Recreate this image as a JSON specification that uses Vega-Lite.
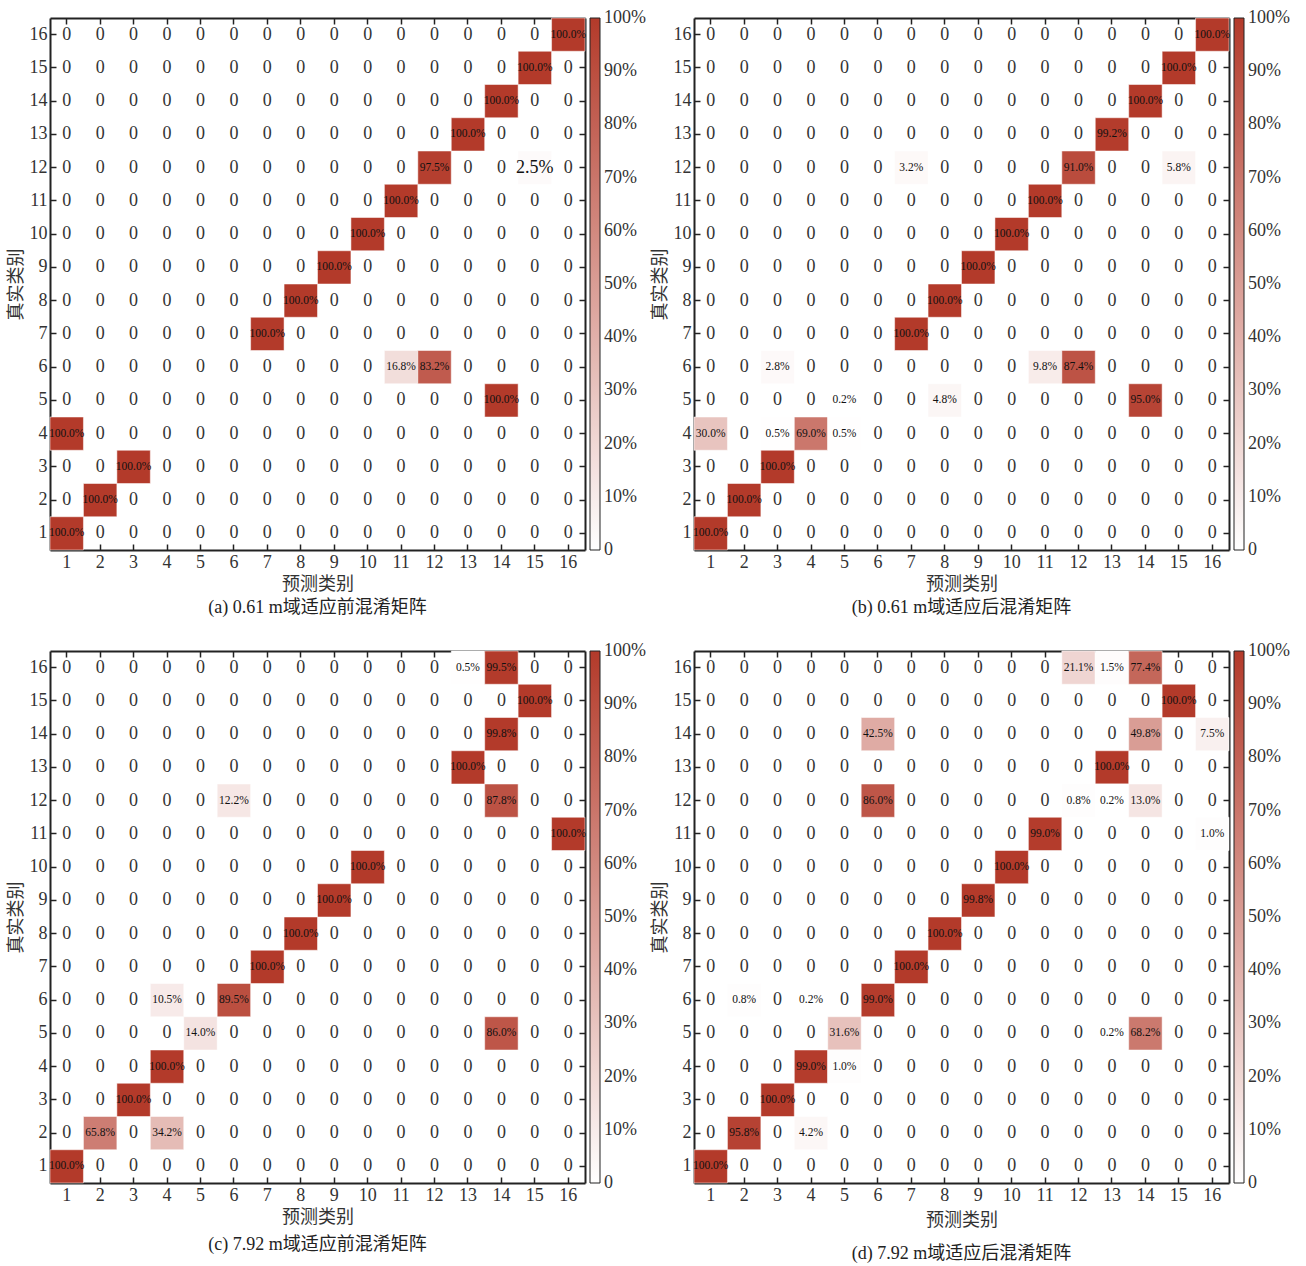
{
"$schema": "https://vega.github.io/schema/vega-lite/v6.json",
"background": "white",
"padding": {"left": 7, "top": 17, "right": 0, "bottom": 0},
"data": {"format": {"type": "csv", "parse": {"t": "number", "p": "number", "v": "number"}}, "values": "g,t,p,v\na,16,1,0\na,16,2,0\na,16,3,0\na,16,4,0\na,16,5,0\na,16,6,0\na,16,7,0\na,16,8,0\na,16,9,0\na,16,10,0\na,16,11,0\na,16,12,0\na,16,13,0\na,16,14,0\na,16,15,0\na,16,16,1\na,15,1,0\na,15,2,0\na,15,3,0\na,15,4,0\na,15,5,0\na,15,6,0\na,15,7,0\na,15,8,0\na,15,9,0\na,15,10,0\na,15,11,0\na,15,12,0\na,15,13,0\na,15,14,0\na,15,15,1\na,15,16,0\na,14,1,0\na,14,2,0\na,14,3,0\na,14,4,0\na,14,5,0\na,14,6,0\na,14,7,0\na,14,8,0\na,14,9,0\na,14,10,0\na,14,11,0\na,14,12,0\na,14,13,0\na,14,14,1\na,14,15,0\na,14,16,0\na,13,1,0\na,13,2,0\na,13,3,0\na,13,4,0\na,13,5,0\na,13,6,0\na,13,7,0\na,13,8,0\na,13,9,0\na,13,10,0\na,13,11,0\na,13,12,0\na,13,13,1\na,13,14,0\na,13,15,0\na,13,16,0\na,12,1,0\na,12,2,0\na,12,3,0\na,12,4,0\na,12,5,0\na,12,6,0\na,12,7,0\na,12,8,0\na,12,9,0\na,12,10,0\na,12,11,0\na,12,12,0.975\na,12,13,0\na,12,14,0\na,12,15,0.025\na,12,16,0\na,11,1,0\na,11,2,0\na,11,3,0\na,11,4,0\na,11,5,0\na,11,6,0\na,11,7,0\na,11,8,0\na,11,9,0\na,11,10,0\na,11,11,1\na,11,12,0\na,11,13,0\na,11,14,0\na,11,15,0\na,11,16,0\na,10,1,0\na,10,2,0\na,10,3,0\na,10,4,0\na,10,5,0\na,10,6,0\na,10,7,0\na,10,8,0\na,10,9,0\na,10,10,1\na,10,11,0\na,10,12,0\na,10,13,0\na,10,14,0\na,10,15,0\na,10,16,0\na,9,1,0\na,9,2,0\na,9,3,0\na,9,4,0\na,9,5,0\na,9,6,0\na,9,7,0\na,9,8,0\na,9,9,1\na,9,10,0\na,9,11,0\na,9,12,0\na,9,13,0\na,9,14,0\na,9,15,0\na,9,16,0\na,8,1,0\na,8,2,0\na,8,3,0\na,8,4,0\na,8,5,0\na,8,6,0\na,8,7,0\na,8,8,1\na,8,9,0\na,8,10,0\na,8,11,0\na,8,12,0\na,8,13,0\na,8,14,0\na,8,15,0\na,8,16,0\na,7,1,0\na,7,2,0\na,7,3,0\na,7,4,0\na,7,5,0\na,7,6,0\na,7,7,1\na,7,8,0\na,7,9,0\na,7,10,0\na,7,11,0\na,7,12,0\na,7,13,0\na,7,14,0\na,7,15,0\na,7,16,0\na,6,1,0\na,6,2,0\na,6,3,0\na,6,4,0\na,6,5,0\na,6,6,0\na,6,7,0\na,6,8,0\na,6,9,0\na,6,10,0\na,6,11,0.168\na,6,12,0.832\na,6,13,0\na,6,14,0\na,6,15,0\na,6,16,0\na,5,1,0\na,5,2,0\na,5,3,0\na,5,4,0\na,5,5,0\na,5,6,0\na,5,7,0\na,5,8,0\na,5,9,0\na,5,10,0\na,5,11,0\na,5,12,0\na,5,13,0\na,5,14,1\na,5,15,0\na,5,16,0\na,4,1,1\na,4,2,0\na,4,3,0\na,4,4,0\na,4,5,0\na,4,6,0\na,4,7,0\na,4,8,0\na,4,9,0\na,4,10,0\na,4,11,0\na,4,12,0\na,4,13,0\na,4,14,0\na,4,15,0\na,4,16,0\na,3,1,0\na,3,2,0\na,3,3,1\na,3,4,0\na,3,5,0\na,3,6,0\na,3,7,0\na,3,8,0\na,3,9,0\na,3,10,0\na,3,11,0\na,3,12,0\na,3,13,0\na,3,14,0\na,3,15,0\na,3,16,0\na,2,1,0\na,2,2,1\na,2,3,0\na,2,4,0\na,2,5,0\na,2,6,0\na,2,7,0\na,2,8,0\na,2,9,0\na,2,10,0\na,2,11,0\na,2,12,0\na,2,13,0\na,2,14,0\na,2,15,0\na,2,16,0\na,1,1,1\na,1,2,0\na,1,3,0\na,1,4,0\na,1,5,0\na,1,6,0\na,1,7,0\na,1,8,0\na,1,9,0\na,1,10,0\na,1,11,0\na,1,12,0\na,1,13,0\na,1,14,0\na,1,15,0\na,1,16,0\nb,16,1,0\nb,16,2,0\nb,16,3,0\nb,16,4,0\nb,16,5,0\nb,16,6,0\nb,16,7,0\nb,16,8,0\nb,16,9,0\nb,16,10,0\nb,16,11,0\nb,16,12,0\nb,16,13,0\nb,16,14,0\nb,16,15,0\nb,16,16,1\nb,15,1,0\nb,15,2,0\nb,15,3,0\nb,15,4,0\nb,15,5,0\nb,15,6,0\nb,15,7,0\nb,15,8,0\nb,15,9,0\nb,15,10,0\nb,15,11,0\nb,15,12,0\nb,15,13,0\nb,15,14,0\nb,15,15,1\nb,15,16,0\nb,14,1,0\nb,14,2,0\nb,14,3,0\nb,14,4,0\nb,14,5,0\nb,14,6,0\nb,14,7,0\nb,14,8,0\nb,14,9,0\nb,14,10,0\nb,14,11,0\nb,14,12,0\nb,14,13,0\nb,14,14,1\nb,14,15,0\nb,14,16,0\nb,13,1,0\nb,13,2,0\nb,13,3,0\nb,13,4,0\nb,13,5,0\nb,13,6,0\nb,13,7,0\nb,13,8,0\nb,13,9,0\nb,13,10,0\nb,13,11,0\nb,13,12,0\nb,13,13,0.992\nb,13,14,0\nb,13,15,0\nb,13,16,0\nb,12,1,0\nb,12,2,0\nb,12,3,0\nb,12,4,0\nb,12,5,0\nb,12,6,0\nb,12,7,0.032\nb,12,8,0\nb,12,9,0\nb,12,10,0\nb,12,11,0\nb,12,12,0.91\nb,12,13,0\nb,12,14,0\nb,12,15,0.058\nb,12,16,0\nb,11,1,0\nb,11,2,0\nb,11,3,0\nb,11,4,0\nb,11,5,0\nb,11,6,0\nb,11,7,0\nb,11,8,0\nb,11,9,0\nb,11,10,0\nb,11,11,1\nb,11,12,0\nb,11,13,0\nb,11,14,0\nb,11,15,0\nb,11,16,0\nb,10,1,0\nb,10,2,0\nb,10,3,0\nb,10,4,0\nb,10,5,0\nb,10,6,0\nb,10,7,0\nb,10,8,0\nb,10,9,0\nb,10,10,1\nb,10,11,0\nb,10,12,0\nb,10,13,0\nb,10,14,0\nb,10,15,0\nb,10,16,0\nb,9,1,0\nb,9,2,0\nb,9,3,0\nb,9,4,0\nb,9,5,0\nb,9,6,0\nb,9,7,0\nb,9,8,0\nb,9,9,1\nb,9,10,0\nb,9,11,0\nb,9,12,0\nb,9,13,0\nb,9,14,0\nb,9,15,0\nb,9,16,0\nb,8,1,0\nb,8,2,0\nb,8,3,0\nb,8,4,0\nb,8,5,0\nb,8,6,0\nb,8,7,0\nb,8,8,1\nb,8,9,0\nb,8,10,0\nb,8,11,0\nb,8,12,0\nb,8,13,0\nb,8,14,0\nb,8,15,0\nb,8,16,0\nb,7,1,0\nb,7,2,0\nb,7,3,0\nb,7,4,0\nb,7,5,0\nb,7,6,0\nb,7,7,1\nb,7,8,0\nb,7,9,0\nb,7,10,0\nb,7,11,0\nb,7,12,0\nb,7,13,0\nb,7,14,0\nb,7,15,0\nb,7,16,0\nb,6,1,0\nb,6,2,0\nb,6,3,0.028\nb,6,4,0\nb,6,5,0\nb,6,6,0\nb,6,7,0\nb,6,8,0\nb,6,9,0\nb,6,10,0\nb,6,11,0.098\nb,6,12,0.874\nb,6,13,0\nb,6,14,0\nb,6,15,0\nb,6,16,0\nb,5,1,0\nb,5,2,0\nb,5,3,0\nb,5,4,0\nb,5,5,0.002\nb,5,6,0\nb,5,7,0\nb,5,8,0.048\nb,5,9,0\nb,5,10,0\nb,5,11,0\nb,5,12,0\nb,5,13,0\nb,5,14,0.95\nb,5,15,0\nb,5,16,0\nb,4,1,0.3\nb,4,2,0\nb,4,3,0.005\nb,4,4,0.69\nb,4,5,0.005\nb,4,6,0\nb,4,7,0\nb,4,8,0\nb,4,9,0\nb,4,10,0\nb,4,11,0\nb,4,12,0\nb,4,13,0\nb,4,14,0\nb,4,15,0\nb,4,16,0\nb,3,1,0\nb,3,2,0\nb,3,3,1\nb,3,4,0\nb,3,5,0\nb,3,6,0\nb,3,7,0\nb,3,8,0\nb,3,9,0\nb,3,10,0\nb,3,11,0\nb,3,12,0\nb,3,13,0\nb,3,14,0\nb,3,15,0\nb,3,16,0\nb,2,1,0\nb,2,2,1\nb,2,3,0\nb,2,4,0\nb,2,5,0\nb,2,6,0\nb,2,7,0\nb,2,8,0\nb,2,9,0\nb,2,10,0\nb,2,11,0\nb,2,12,0\nb,2,13,0\nb,2,14,0\nb,2,15,0\nb,2,16,0\nb,1,1,1\nb,1,2,0\nb,1,3,0\nb,1,4,0\nb,1,5,0\nb,1,6,0\nb,1,7,0\nb,1,8,0\nb,1,9,0\nb,1,10,0\nb,1,11,0\nb,1,12,0\nb,1,13,0\nb,1,14,0\nb,1,15,0\nb,1,16,0\nc,16,1,0\nc,16,2,0\nc,16,3,0\nc,16,4,0\nc,16,5,0\nc,16,6,0\nc,16,7,0\nc,16,8,0\nc,16,9,0\nc,16,10,0\nc,16,11,0\nc,16,12,0\nc,16,13,0.005\nc,16,14,0.995\nc,16,15,0\nc,16,16,0\nc,15,1,0\nc,15,2,0\nc,15,3,0\nc,15,4,0\nc,15,5,0\nc,15,6,0\nc,15,7,0\nc,15,8,0\nc,15,9,0\nc,15,10,0\nc,15,11,0\nc,15,12,0\nc,15,13,0\nc,15,14,0\nc,15,15,1\nc,15,16,0\nc,14,1,0\nc,14,2,0\nc,14,3,0\nc,14,4,0\nc,14,5,0\nc,14,6,0\nc,14,7,0\nc,14,8,0\nc,14,9,0\nc,14,10,0\nc,14,11,0\nc,14,12,0\nc,14,13,0\nc,14,14,0.998\nc,14,15,0\nc,14,16,0\nc,13,1,0\nc,13,2,0\nc,13,3,0\nc,13,4,0\nc,13,5,0\nc,13,6,0\nc,13,7,0\nc,13,8,0\nc,13,9,0\nc,13,10,0\nc,13,11,0\nc,13,12,0\nc,13,13,1\nc,13,14,0\nc,13,15,0\nc,13,16,0\nc,12,1,0\nc,12,2,0\nc,12,3,0\nc,12,4,0\nc,12,5,0\nc,12,6,0.122\nc,12,7,0\nc,12,8,0\nc,12,9,0\nc,12,10,0\nc,12,11,0\nc,12,12,0\nc,12,13,0\nc,12,14,0.878\nc,12,15,0\nc,12,16,0\nc,11,1,0\nc,11,2,0\nc,11,3,0\nc,11,4,0\nc,11,5,0\nc,11,6,0\nc,11,7,0\nc,11,8,0\nc,11,9,0\nc,11,10,0\nc,11,11,0\nc,11,12,0\nc,11,13,0\nc,11,14,0\nc,11,15,0\nc,11,16,1\nc,10,1,0\nc,10,2,0\nc,10,3,0\nc,10,4,0\nc,10,5,0\nc,10,6,0\nc,10,7,0\nc,10,8,0\nc,10,9,0\nc,10,10,1\nc,10,11,0\nc,10,12,0\nc,10,13,0\nc,10,14,0\nc,10,15,0\nc,10,16,0\nc,9,1,0\nc,9,2,0\nc,9,3,0\nc,9,4,0\nc,9,5,0\nc,9,6,0\nc,9,7,0\nc,9,8,0\nc,9,9,1\nc,9,10,0\nc,9,11,0\nc,9,12,0\nc,9,13,0\nc,9,14,0\nc,9,15,0\nc,9,16,0\nc,8,1,0\nc,8,2,0\nc,8,3,0\nc,8,4,0\nc,8,5,0\nc,8,6,0\nc,8,7,0\nc,8,8,1\nc,8,9,0\nc,8,10,0\nc,8,11,0\nc,8,12,0\nc,8,13,0\nc,8,14,0\nc,8,15,0\nc,8,16,0\nc,7,1,0\nc,7,2,0\nc,7,3,0\nc,7,4,0\nc,7,5,0\nc,7,6,0\nc,7,7,1\nc,7,8,0\nc,7,9,0\nc,7,10,0\nc,7,11,0\nc,7,12,0\nc,7,13,0\nc,7,14,0\nc,7,15,0\nc,7,16,0\nc,6,1,0\nc,6,2,0\nc,6,3,0\nc,6,4,0.105\nc,6,5,0\nc,6,6,0.895\nc,6,7,0\nc,6,8,0\nc,6,9,0\nc,6,10,0\nc,6,11,0\nc,6,12,0\nc,6,13,0\nc,6,14,0\nc,6,15,0\nc,6,16,0\nc,5,1,0\nc,5,2,0\nc,5,3,0\nc,5,4,0\nc,5,5,0.14\nc,5,6,0\nc,5,7,0\nc,5,8,0\nc,5,9,0\nc,5,10,0\nc,5,11,0\nc,5,12,0\nc,5,13,0\nc,5,14,0.86\nc,5,15,0\nc,5,16,0\nc,4,1,0\nc,4,2,0\nc,4,3,0\nc,4,4,1\nc,4,5,0\nc,4,6,0\nc,4,7,0\nc,4,8,0\nc,4,9,0\nc,4,10,0\nc,4,11,0\nc,4,12,0\nc,4,13,0\nc,4,14,0\nc,4,15,0\nc,4,16,0\nc,3,1,0\nc,3,2,0\nc,3,3,1\nc,3,4,0\nc,3,5,0\nc,3,6,0\nc,3,7,0\nc,3,8,0\nc,3,9,0\nc,3,10,0\nc,3,11,0\nc,3,12,0\nc,3,13,0\nc,3,14,0\nc,3,15,0\nc,3,16,0\nc,2,1,0\nc,2,2,0.658\nc,2,3,0\nc,2,4,0.342\nc,2,5,0\nc,2,6,0\nc,2,7,0\nc,2,8,0\nc,2,9,0\nc,2,10,0\nc,2,11,0\nc,2,12,0\nc,2,13,0\nc,2,14,0\nc,2,15,0\nc,2,16,0\nc,1,1,1\nc,1,2,0\nc,1,3,0\nc,1,4,0\nc,1,5,0\nc,1,6,0\nc,1,7,0\nc,1,8,0\nc,1,9,0\nc,1,10,0\nc,1,11,0\nc,1,12,0\nc,1,13,0\nc,1,14,0\nc,1,15,0\nc,1,16,0\nd,16,1,0\nd,16,2,0\nd,16,3,0\nd,16,4,0\nd,16,5,0\nd,16,6,0\nd,16,7,0\nd,16,8,0\nd,16,9,0\nd,16,10,0\nd,16,11,0\nd,16,12,0.211\nd,16,13,0.015\nd,16,14,0.774\nd,16,15,0\nd,16,16,0\nd,15,1,0\nd,15,2,0\nd,15,3,0\nd,15,4,0\nd,15,5,0\nd,15,6,0\nd,15,7,0\nd,15,8,0\nd,15,9,0\nd,15,10,0\nd,15,11,0\nd,15,12,0\nd,15,13,0\nd,15,14,0\nd,15,15,1\nd,15,16,0\nd,14,1,0\nd,14,2,0\nd,14,3,0\nd,14,4,0\nd,14,5,0\nd,14,6,0.425\nd,14,7,0\nd,14,8,0\nd,14,9,0\nd,14,10,0\nd,14,11,0\nd,14,12,0\nd,14,13,0\nd,14,14,0.498\nd,14,15,0\nd,14,16,0.075\nd,13,1,0\nd,13,2,0\nd,13,3,0\nd,13,4,0\nd,13,5,0\nd,13,6,0\nd,13,7,0\nd,13,8,0\nd,13,9,0\nd,13,10,0\nd,13,11,0\nd,13,12,0\nd,13,13,1\nd,13,14,0\nd,13,15,0\nd,13,16,0\nd,12,1,0\nd,12,2,0\nd,12,3,0\nd,12,4,0\nd,12,5,0\nd,12,6,0.86\nd,12,7,0\nd,12,8,0\nd,12,9,0\nd,12,10,0\nd,12,11,0\nd,12,12,0.008\nd,12,13,0.002\nd,12,14,0.13\nd,12,15,0\nd,12,16,0\nd,11,1,0\nd,11,2,0\nd,11,3,0\nd,11,4,0\nd,11,5,0\nd,11,6,0\nd,11,7,0\nd,11,8,0\nd,11,9,0\nd,11,10,0\nd,11,11,0.99\nd,11,12,0\nd,11,13,0\nd,11,14,0\nd,11,15,0\nd,11,16,0.01\nd,10,1,0\nd,10,2,0\nd,10,3,0\nd,10,4,0\nd,10,5,0\nd,10,6,0\nd,10,7,0\nd,10,8,0\nd,10,9,0\nd,10,10,1\nd,10,11,0\nd,10,12,0\nd,10,13,0\nd,10,14,0\nd,10,15,0\nd,10,16,0\nd,9,1,0\nd,9,2,0\nd,9,3,0\nd,9,4,0\nd,9,5,0\nd,9,6,0\nd,9,7,0\nd,9,8,0\nd,9,9,0.998\nd,9,10,0\nd,9,11,0\nd,9,12,0\nd,9,13,0\nd,9,14,0\nd,9,15,0\nd,9,16,0\nd,8,1,0\nd,8,2,0\nd,8,3,0\nd,8,4,0\nd,8,5,0\nd,8,6,0\nd,8,7,0\nd,8,8,1\nd,8,9,0\nd,8,10,0\nd,8,11,0\nd,8,12,0\nd,8,13,0\nd,8,14,0\nd,8,15,0\nd,8,16,0\nd,7,1,0\nd,7,2,0\nd,7,3,0\nd,7,4,0\nd,7,5,0\nd,7,6,0\nd,7,7,1\nd,7,8,0\nd,7,9,0\nd,7,10,0\nd,7,11,0\nd,7,12,0\nd,7,13,0\nd,7,14,0\nd,7,15,0\nd,7,16,0\nd,6,1,0\nd,6,2,0.008\nd,6,3,0\nd,6,4,0.002\nd,6,5,0\nd,6,6,0.99\nd,6,7,0\nd,6,8,0\nd,6,9,0\nd,6,10,0\nd,6,11,0\nd,6,12,0\nd,6,13,0\nd,6,14,0\nd,6,15,0\nd,6,16,0\nd,5,1,0\nd,5,2,0\nd,5,3,0\nd,5,4,0\nd,5,5,0.316\nd,5,6,0\nd,5,7,0\nd,5,8,0\nd,5,9,0\nd,5,10,0\nd,5,11,0\nd,5,12,0\nd,5,13,0.002\nd,5,14,0.682\nd,5,15,0\nd,5,16,0\nd,4,1,0\nd,4,2,0\nd,4,3,0\nd,4,4,0.99\nd,4,5,0.01\nd,4,6,0\nd,4,7,0\nd,4,8,0\nd,4,9,0\nd,4,10,0\nd,4,11,0\nd,4,12,0\nd,4,13,0\nd,4,14,0\nd,4,15,0\nd,4,16,0\nd,3,1,0\nd,3,2,0\nd,3,3,1\nd,3,4,0\nd,3,5,0\nd,3,6,0\nd,3,7,0\nd,3,8,0\nd,3,9,0\nd,3,10,0\nd,3,11,0\nd,3,12,0\nd,3,13,0\nd,3,14,0\nd,3,15,0\nd,3,16,0\nd,2,1,0\nd,2,2,0.958\nd,2,3,0\nd,2,4,0.042\nd,2,5,0\nd,2,6,0\nd,2,7,0\nd,2,8,0\nd,2,9,0\nd,2,10,0\nd,2,11,0\nd,2,12,0\nd,2,13,0\nd,2,14,0\nd,2,15,0\nd,2,16,0\nd,1,1,1\nd,1,2,0\nd,1,3,0\nd,1,4,0\nd,1,5,0\nd,1,6,0\nd,1,7,0\nd,1,8,0\nd,1,9,0\nd,1,10,0\nd,1,11,0\nd,1,12,0\nd,1,13,0\nd,1,14,0\nd,1,15,0\nd,1,16,0"},
"config": {
  "font": "Liberation Serif, Noto Sans CJK SC",
  "view": {"stroke": null},
  "axis": {"domain": true, "domainColor": "#222", "domainWidth": 2, "grid": false, "ticks": true, "tickColor": "#222", "tickWidth": 1.5, "tickSize": -6, "labelFontSize": 18, "labelColor": "#333", "labelPadding": 9, "labelAngle": 0, "titleFontSize": 18, "titleColor": "#333", "titleFontWeight": "normal", "titlePadding": 4, "zindex": 1},
  "legend": {"gradientVerticalMaxLength": 700, "labelFontSize": 18, "labelColor": "#333", "labelFont": "Liberation Serif"},
  "title": {"fontSize": 18, "fontWeight": "normal", "color": "#222", "font": "Liberation Serif, Noto Sans CJK SC"}
},
"spacing": 33,
"resolve": {"scale": {"color": "independent"}, "legend": {"color": "independent"}},
"vconcat": [
  {"hconcat": [
    {"title": {"text": "(a) 0.61 m域适应前混淆矩阵", "orient": "bottom", "offset": 6, "frame": "group"},
     "width": 535, "height": 532,
     "transform": [{"filter": "datum.g == 'a'"}],
     "layer": [
      {"transform": [{"filter": "datum.v > 0"}],
       "mark": {"type": "rect", "stroke": "white", "strokeOpacity": 0.5, "strokeWidth": 1},
       "encoding": {
        "x": {"field": "p", "type": "ordinal", "scale": {"type": "band", "domain": [1,2,3,4,5,6,7,8,9,10,11,12,13,14,15,16], "paddingInner": 0, "paddingOuter": 0}, "axis": {"orient": "bottom", "title": "预测类别"}},
        "y": {"field": "t", "type": "ordinal", "scale": {"type": "band", "domain": [16,15,14,13,12,11,10,9,8,7,6,5,4,3,2,1], "paddingInner": 0, "paddingOuter": 0}, "axis": {"orient": "left", "title": "真实类别"}},
        "color": {"field": "v", "type": "quantitative", "scale": {"domain": [0, 1], "range": ["#ffffff", "#b33a2a"], "interpolate": "rgb"}, "legend": {"orient": "right", "offset": 4, "title": null, "direction": "vertical", "gradientLength": 532, "gradientThickness": 10, "values": [0,0.1,0.2,0.3,0.4,0.5,0.6,0.7,0.8,0.9,1], "labelExpr": "datum.value == 0 ? '0' : format(datum.value, '.0%')", "labelOffset": 4, "labelOverlap": false, "gradientStrokeColor": "#222", "gradientStrokeWidth": 1, "encode": {"labels": {"update": {"baseline": {"value": "middle"}}}}}}
       }},
      {"transform": [{"filter": "datum.v == 0"}],
       "mark": {"type": "text", "fontSize": 18, "color": "#333", "font": "Liberation Serif"},
       "encoding": {
        "x": {"field": "p", "type": "ordinal", "axis": {"orient": "top", "labels": false, "title": null}},
        "y": {"field": "t", "type": "ordinal", "axis": {"orient": "right", "labels": false, "title": null}},
        "text": {"field": "v", "type": "quantitative", "format": ".0f"}
       }},
      {"transform": [{"filter": "datum.v > 0"}],
       "mark": {"type": "text", "color": "#111", "font": "Liberation Serif"},
       "encoding": {
        "x": {"field": "p", "type": "ordinal", "axis": null},
        "y": {"field": "t", "type": "ordinal", "axis": null},
        "text": {"field": "v", "type": "quantitative", "format": ".1%"},
        "size": {"condition": {"test": "datum.g == 'a' && datum.t == 12 && datum.p == 15", "value": 18}, "value": 11.5}
       }}
     ],
     "resolve": {"axis": {"x": "independent", "y": "independent"}}
    },
    {"title": {"text": "(b) 0.61 m域适应后混淆矩阵", "orient": "bottom", "offset": 6, "frame": "group"},
     "width": 535, "height": 532,
     "transform": [{"filter": "datum.g == 'b'"}],
     "layer": [
      {"transform": [{"filter": "datum.v > 0"}],
       "mark": {"type": "rect", "stroke": "white", "strokeOpacity": 0.5, "strokeWidth": 1},
       "encoding": {
        "x": {"field": "p", "type": "ordinal", "scale": {"type": "band", "domain": [1,2,3,4,5,6,7,8,9,10,11,12,13,14,15,16], "paddingInner": 0, "paddingOuter": 0}, "axis": {"orient": "bottom", "title": "预测类别"}},
        "y": {"field": "t", "type": "ordinal", "scale": {"type": "band", "domain": [16,15,14,13,12,11,10,9,8,7,6,5,4,3,2,1], "paddingInner": 0, "paddingOuter": 0}, "axis": {"orient": "left", "title": "真实类别"}},
        "color": {"field": "v", "type": "quantitative", "scale": {"domain": [0, 1], "range": ["#ffffff", "#b33a2a"], "interpolate": "rgb"}, "legend": {"orient": "right", "offset": 4, "title": null, "direction": "vertical", "gradientLength": 532, "gradientThickness": 10, "values": [0,0.1,0.2,0.3,0.4,0.5,0.6,0.7,0.8,0.9,1], "labelExpr": "datum.value == 0 ? '0' : format(datum.value, '.0%')", "labelOffset": 4, "labelOverlap": false, "gradientStrokeColor": "#222", "gradientStrokeWidth": 1, "encode": {"labels": {"update": {"baseline": {"value": "middle"}}}}}}
       }},
      {"transform": [{"filter": "datum.v == 0"}],
       "mark": {"type": "text", "fontSize": 18, "color": "#333", "font": "Liberation Serif"},
       "encoding": {
        "x": {"field": "p", "type": "ordinal", "axis": {"orient": "top", "labels": false, "title": null}},
        "y": {"field": "t", "type": "ordinal", "axis": {"orient": "right", "labels": false, "title": null}},
        "text": {"field": "v", "type": "quantitative", "format": ".0f"}
       }},
      {"transform": [{"filter": "datum.v > 0"}],
       "mark": {"type": "text", "color": "#111", "font": "Liberation Serif", "fontSize": 11.5},
       "encoding": {
        "x": {"field": "p", "type": "ordinal", "axis": null},
        "y": {"field": "t", "type": "ordinal", "axis": null},
        "text": {"field": "v", "type": "quantitative", "format": ".1%"}
       }}
     ],
     "resolve": {"axis": {"x": "independent", "y": "independent"}}
    }
  ], "spacing": 5, "resolve": {"scale": {"color": "independent"}, "legend": {"color": "independent"}}},
  {"hconcat": [
    {"title": {"text": "(c) 7.92 m域适应前混淆矩阵", "orient": "bottom", "offset": 10, "frame": "group"},
     "width": 535, "height": 532,
     "transform": [{"filter": "datum.g == 'c'"}],
     "layer": [
      {"transform": [{"filter": "datum.v > 0"}],
       "mark": {"type": "rect", "stroke": "white", "strokeOpacity": 0.5, "strokeWidth": 1},
       "encoding": {
        "x": {"field": "p", "type": "ordinal", "scale": {"type": "band", "domain": [1,2,3,4,5,6,7,8,9,10,11,12,13,14,15,16], "paddingInner": 0, "paddingOuter": 0}, "axis": {"orient": "bottom", "title": "预测类别"}},
        "y": {"field": "t", "type": "ordinal", "scale": {"type": "band", "domain": [16,15,14,13,12,11,10,9,8,7,6,5,4,3,2,1], "paddingInner": 0, "paddingOuter": 0}, "axis": {"orient": "left", "title": "真实类别"}},
        "color": {"field": "v", "type": "quantitative", "scale": {"domain": [0, 1], "range": ["#ffffff", "#b33a2a"], "interpolate": "rgb"}, "legend": {"orient": "right", "offset": 4, "title": null, "direction": "vertical", "gradientLength": 532, "gradientThickness": 10, "values": [0,0.1,0.2,0.3,0.4,0.5,0.6,0.7,0.8,0.9,1], "labelExpr": "datum.value == 0 ? '0' : format(datum.value, '.0%')", "labelOffset": 4, "labelOverlap": false, "gradientStrokeColor": "#222", "gradientStrokeWidth": 1, "encode": {"labels": {"update": {"baseline": {"value": "middle"}}}}}}
       }},
      {"transform": [{"filter": "datum.v == 0"}],
       "mark": {"type": "text", "fontSize": 18, "color": "#333", "font": "Liberation Serif"},
       "encoding": {
        "x": {"field": "p", "type": "ordinal", "axis": {"orient": "top", "labels": false, "title": null}},
        "y": {"field": "t", "type": "ordinal", "axis": {"orient": "right", "labels": false, "title": null}},
        "text": {"field": "v", "type": "quantitative", "format": ".0f"}
       }},
      {"transform": [{"filter": "datum.v > 0"}],
       "mark": {"type": "text", "color": "#111", "font": "Liberation Serif", "fontSize": 11.5},
       "encoding": {
        "x": {"field": "p", "type": "ordinal", "axis": null},
        "y": {"field": "t", "type": "ordinal", "axis": null},
        "text": {"field": "v", "type": "quantitative", "format": ".1%"}
       }}
     ],
     "resolve": {"axis": {"x": "independent", "y": "independent"}}
    },
    {"title": {"text": "(d) 7.92 m域适应后混淆矩阵", "orient": "bottom", "offset": 16, "frame": "group"},
     "width": 535, "height": 532,
     "transform": [{"filter": "datum.g == 'd'"}],
     "layer": [
      {"transform": [{"filter": "datum.v > 0"}],
       "mark": {"type": "rect", "stroke": "white", "strokeOpacity": 0.5, "strokeWidth": 1},
       "encoding": {
        "x": {"field": "p", "type": "ordinal", "scale": {"type": "band", "domain": [1,2,3,4,5,6,7,8,9,10,11,12,13,14,15,16], "paddingInner": 0, "paddingOuter": 0}, "axis": {"orient": "bottom", "title": "预测类别", "titlePadding": 7}},
        "y": {"field": "t", "type": "ordinal", "scale": {"type": "band", "domain": [16,15,14,13,12,11,10,9,8,7,6,5,4,3,2,1], "paddingInner": 0, "paddingOuter": 0}, "axis": {"orient": "left", "title": "真实类别"}},
        "color": {"field": "v", "type": "quantitative", "scale": {"domain": [0, 1], "range": ["#ffffff", "#b33a2a"], "interpolate": "rgb"}, "legend": {"orient": "right", "offset": 4, "title": null, "direction": "vertical", "gradientLength": 532, "gradientThickness": 10, "values": [0,0.1,0.2,0.3,0.4,0.5,0.6,0.7,0.8,0.9,1], "labelExpr": "datum.value == 0 ? '0' : format(datum.value, '.0%')", "labelOffset": 4, "labelOverlap": false, "gradientStrokeColor": "#222", "gradientStrokeWidth": 1, "encode": {"labels": {"update": {"baseline": {"value": "middle"}}}}}}
       }},
      {"transform": [{"filter": "datum.v == 0"}],
       "mark": {"type": "text", "fontSize": 18, "color": "#333", "font": "Liberation Serif"},
       "encoding": {
        "x": {"field": "p", "type": "ordinal", "axis": {"orient": "top", "labels": false, "title": null}},
        "y": {"field": "t", "type": "ordinal", "axis": {"orient": "right", "labels": false, "title": null}},
        "text": {"field": "v", "type": "quantitative", "format": ".0f"}
       }},
      {"transform": [{"filter": "datum.v > 0"}],
       "mark": {"type": "text", "color": "#111", "font": "Liberation Serif", "fontSize": 11.5},
       "encoding": {
        "x": {"field": "p", "type": "ordinal", "axis": null},
        "y": {"field": "t", "type": "ordinal", "axis": null},
        "text": {"field": "v", "type": "quantitative", "format": ".1%"}
       }}
     ],
     "resolve": {"axis": {"x": "independent", "y": "independent"}}
    }
  ], "spacing": 5, "resolve": {"scale": {"color": "independent"}, "legend": {"color": "independent"}}}
]
}
